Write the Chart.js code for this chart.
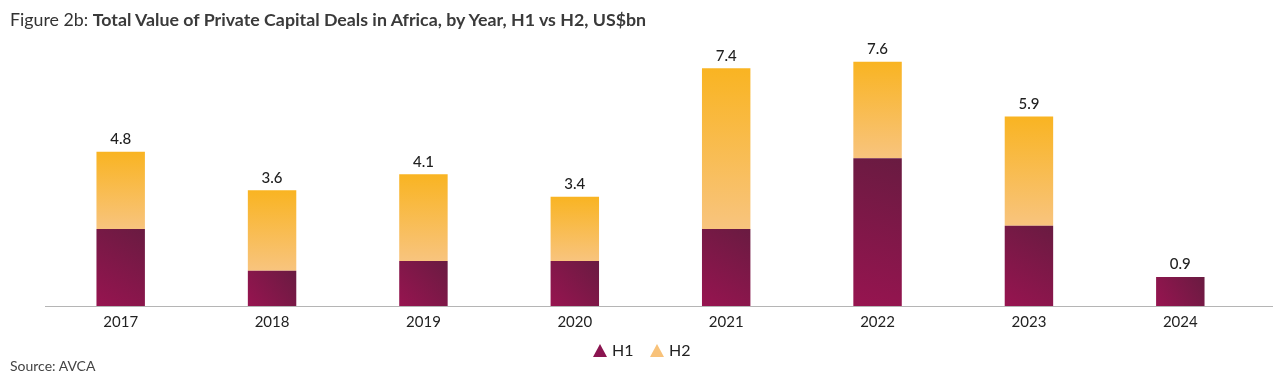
<!DOCTYPE html>
<html lang="en">
<head>
    <meta charset="UTF-8">
    <title>Figure 2b</title>
    <script src="https://cdn.jsdelivr.net/npm/chart.js@4.4.1/dist/chart.umd.min.js"></script>
    <style>
        html, body { margin: 0; padding: 0; background: #fff; }
        body { width: 1286px; height: 375px; position: relative; overflow: hidden; font-family: Lato, "Open Sans", sans-serif; }
        #title { position: absolute; left: 10px; top: 8px; font-size: 17.8px; color: #333; white-space: nowrap; }
        #title b { font-weight: 700; color: #3a3a3a; }
        #source { position: absolute; left: 10px; top: 357px; font-size: 14px; color: #444; }
        #wrap { position: absolute; left: 0; top: 0; width: 1286px; height: 375px; }
        .leg { position: absolute; top: 340px; font-size: 16px; color: #222; line-height: 20px; }
        .tri { position: absolute; top: 4px; left: 0; width: 0; height: 0;
               border-left: 7px solid transparent; border-right: 7px solid transparent; border-bottom: 13px solid; }
        .leg span.t { position: absolute; left: 19px; top: 0; }
    </style>
</head>
<body>
<div id="wrap"><canvas id="chart01"></canvas></div>
<div id="title">Figure 2b: <b>Total Value of Private Capital Deals in Africa, by Year, H1 vs H2, US$bn</b></div>
<div id="legend"></div>
<div id="source">Source: AVCA</div>

<script>
    // 数据
    var years = ["2017", "2018", "2019", "2020", "2021", "2022", "2023", "2024"];
    var h1Values = [2.4, 1.1, 1.4, 1.4, 2.4, 4.6, 2.5, 0.9];
    var h2Values = [2.4, 2.5, 2.7, 2.0, 5.0, 3.0, 3.4, 0];
    var totalLabels = ["4.8", "3.6", "4.1", "3.4", "7.4", "7.6", "5.9", "0.9"];
    var seriesNames = ["H1", "H2"];

    var h1Color = "#8a1550";
    var h2Color = "#f8c27a";

    // 图例 (HTML)
    var legendLeft = [593, 650];
    var legendColors = [h1Color, h2Color];
    seriesNames.forEach(function (name, i) {
        var d = document.createElement("div");
        d.className = "leg";
        d.style.left = legendLeft[i] + "px";
        d.innerHTML = '<i class="tri" style="border-bottom-color:' + legendColors[i] + '"></i><span class="t">' + name + '</span>';
        document.getElementById("legend").appendChild(d);
    });

    // 每根柱子单独渐变
    var barGradients = {
        id: "barGradients",
        beforeDatasetsDraw: function (chart) {
            var ctx = chart.ctx;
            chart.data.datasets.forEach(function (ds, di) {
                var meta = chart.getDatasetMeta(di);
                meta.data.forEach(function (el) {
                    var left = el.x - el.width / 2, right = el.x + el.width / 2;
                    var g;
                    if (di === 0) {
                        g = ctx.createLinearGradient(left, el.base, right, el.y);
                        g.addColorStop(0, "#971450");
                        g.addColorStop(1, "#691b41");
                    } else {
                        g = ctx.createLinearGradient(0, el.y, 0, el.base);
                        g.addColorStop(0, "#f9b422");
                        g.addColorStop(1, "#f8c47e");
                    }
                    el.options = Object.assign({}, el.options, {backgroundColor: g});
                });
            });
        }
    };

    // 总数标签 + 底线
    var extras = {
        id: "extras",
        afterDatasetsDraw: function (chart) {
            var ctx = chart.ctx;
            var area = chart.chartArea;
            ctx.save();
            ctx.strokeStyle = "#b5b5b5";
            ctx.lineWidth = 1;
            ctx.beginPath();
            ctx.moveTo(45, Math.round(area.bottom) + 0.5);
            ctx.lineTo(1273, Math.round(area.bottom) + 0.5);
            ctx.stroke();

            var y = chart.scales.y;
            ctx.fillStyle = "#1f1f1f";
            ctx.font = "500 15px Lato, sans-serif";
            ctx.textAlign = "center";
            ctx.textBaseline = "bottom";
            var meta = chart.getDatasetMeta(0);
            years.forEach(function (yr, i) {
                var top = y.getPixelForValue(h1Values[i] + h2Values[i]);
                ctx.fillText(totalLabels[i], meta.data[i].x, top - 5);
            });
            ctx.restore();
        }
    };

    new Chart(document.getElementById("chart01"), {
        type: "bar",
        data: {
            labels: years,
            datasets: [
                {label: seriesNames[0], data: h1Values, backgroundColor: h1Color, borderWidth: 0},
                {label: seriesNames[1], data: h2Values, backgroundColor: h2Color, borderWidth: 0}
            ]
        },
        options: {
            responsive: true,
            maintainAspectRatio: false,
            animation: false,
            layout: {padding: {top: 49, left: 45, right: 30, bottom: 37}},
            datasets: {bar: {categoryPercentage: 1, barPercentage: 0.32}},
            scales: {
                x: {
                    stacked: true,
                    grid: {display: false, drawTicks: false},
                    border: {display: false},
                    ticks: {color: "#222", font: {family: "Lato", size: 15}, padding: 7}
                },
                y: {
                    stacked: true,
                    display: false,
                    min: 0,
                    max: 8
                }
            },
            plugins: {
                legend: {display: false},
                tooltip: {enabled: false}
            }
        },
        plugins: [barGradients, extras]
    });
</script>
</body>
</html>
